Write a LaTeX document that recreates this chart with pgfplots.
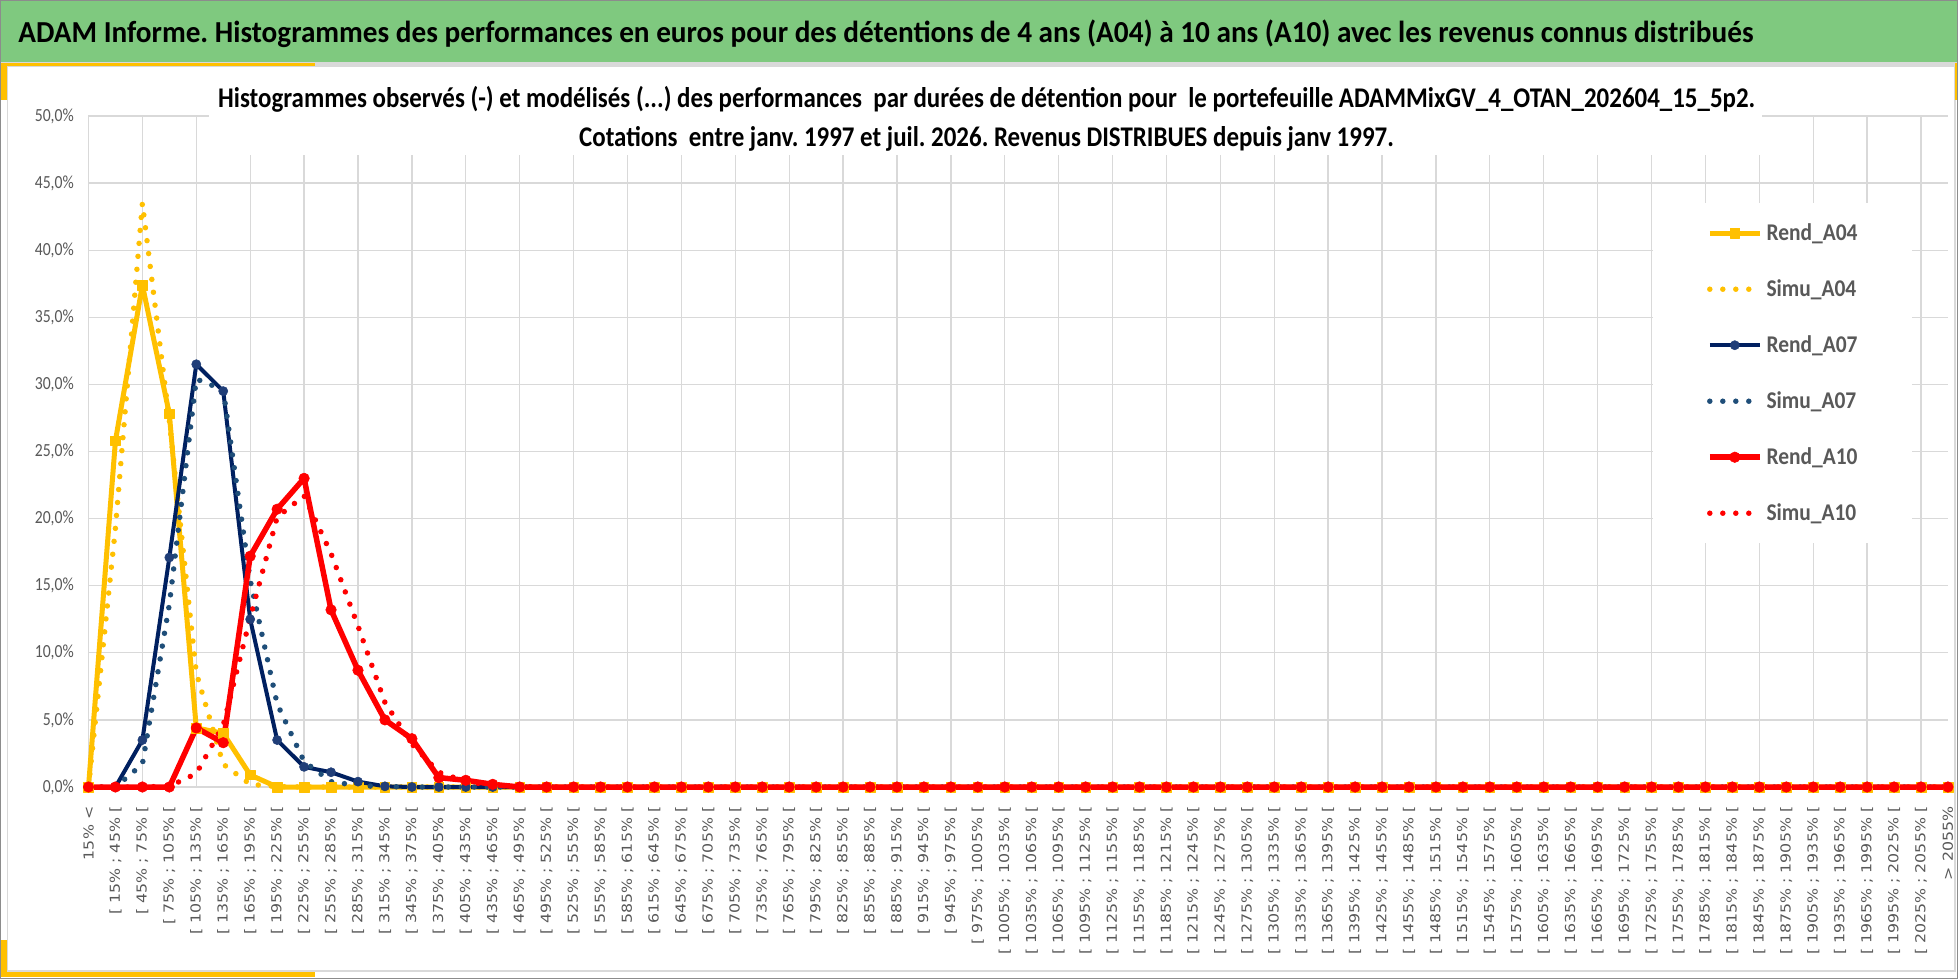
\documentclass[border=0pt]{standalone}
\usepackage{pgfplots}
\usepackage{pgfplotstable}
\pgfplotsset{compat=1.18}
\usetikzlibrary{backgrounds}
\usepackage{fontspec}
\setmainfont{Carlito}
\newfontfamily\dejavu{DejaVu Sans}
\definecolor{ttl}{HTML}{595959}
\definecolor{grn}{HTML}{7FC97F}
\definecolor{ylw}{HTML}{FFC000}
\definecolor{nvy}{HTML}{002060}
\definecolor{nvym}{HTML}{203E78}
\definecolor{stl}{HTML}{1F4E79}
\definecolor{rd}{HTML}{FF0000}
\definecolor{gridc}{HTML}{D9D9D9}
\definecolor{framec}{HTML}{8C8C8C}

\newcommand\xl[1]{\scalebox{1}[0.87]{#1}}
\newcommand\br[2]{\xl{[ #1\% ; #2\% [}}
\newcommand\yl[1]{\scalebox{\yfac}[1]{#1}}
\newcommand\lgt[1]{\scalebox{\lfac}[1]{#1}}

\pgfplotstableread{
idx R04 S04 R07 S07 R10 S10
0 0 0 0 0 0 0
1 25.8 19.3 0 0 0 0
2 37.4 43.5 3.5 1.7 0 0
3 27.8 27.3 17.1 13.6 0 0.05
4 4.4 8.5 31.5 30.4 4.4 1.0
5 4.0 1.7 29.5 29.6 3.3 4.6
6 0.9 0.2 12.5 15.4 17.2 12.6
7 0 0.03 3.5 6.2 20.7 20.1
8 0 0 1.5 1.9 23.0 21.7
9 0 0 1.1 0.4 13.2 17.4
10 0 0 0.4 0.1 8.7 12.0
11 0 0 0.05 0.03 5.0 6.3
12 0 0 0 0 3.6 3.2
13 0 0 0 0 0.7 1.1
14 0 0 0 0 0.5 0.4
15 0 0 0 0 0.2 0.12
16 0 0 0 0 0 0.03
17 0 0 0 0 0 0
18 0 0 0 0 0 0
19 0 0 0 0 0 0
20 0 0 0 0 0 0
21 0 0 0 0 0 0
22 0 0 0 0 0 0
23 0 0 0 0 0 0
24 0 0 0 0 0 0
25 0 0 0 0 0 0
26 0 0 0 0 0 0
27 0 0 0 0 0 0
28 0 0 0 0 0 0
29 0 0 0 0 0 0
30 0 0 0 0 0 0
31 0 0 0 0 0 0
32 0 0 0 0 0 0
33 0 0 0 0 0 0
34 0 0 0 0 0 0
35 0 0 0 0 0 0
36 0 0 0 0 0 0
37 0 0 0 0 0 0
38 0 0 0 0 0 0
39 0 0 0 0 0 0
40 0 0 0 0 0 0
41 0 0 0 0 0 0
42 0 0 0 0 0 0
43 0 0 0 0 0 0
44 0 0 0 0 0 0
45 0 0 0 0 0 0
46 0 0 0 0 0 0
47 0 0 0 0 0 0
48 0 0 0 0 0 0
49 0 0 0 0 0 0
50 0 0 0 0 0 0
51 0 0 0 0 0 0
52 0 0 0 0 0 0
53 0 0 0 0 0 0
54 0 0 0 0 0 0
55 0 0 0 0 0 0
56 0 0 0 0 0 0
57 0 0 0 0 0 0
58 0 0 0 0 0 0
59 0 0 0 0 0 0
60 0 0 0 0 0 0
61 0 0 0 0 0 0
62 0 0 0 0 0 0
63 0 0 0 0 0 0
64 0 0 0 0 0 0
65 0 0 0 0 0 0
66 0 0 0 0 0 0
67 0 0 0 0 0 0
68 0 0 0 0 0 0
69 0 0 0 0 0 0
}\datatab

\newsavebox\titlebox
\newsavebox\subA
\newsavebox\subB
\newsavebox\lgbox
\newsavebox\ybox

\begin{document}
\frenchspacing
\sbox\titlebox{\fontsize{30.5bp}{36bp}\selectfont\bfseries ADAM Informe. Histogrammes des performances en euros pour des détentions de 4 ans (A04) à 10 ans (A10) avec les revenus connus distribués}%
\sbox\subA{\fontsize{28.5bp}{34bp}\selectfont\bfseries Histogrammes observés (-) et modélisés (...) des performances\ \ par durées de détention pour\ \ le portefeuille ADAMMixGV\_4\_OTAN\_202604\_15\_5p2.}%
\sbox\subB{\fontsize{28.5bp}{34bp}\selectfont\bfseries Cotations\ \ entre janv. 1997 et juil. 2026. Revenus DISTRIBUES depuis janv 1997.}%
\sbox\lgbox{\fontsize{24bp}{24bp}\selectfont\bfseries Rend\_A04}%
\sbox\ybox{\fontsize{18.5bp}{19bp}\selectfont 50,0\%}%
\pgfmathsetmacro\sfac{1542.76/\the\wd\subA}%
\pgfmathsetmacro\lfac{91.34/\the\wd\lgbox}%
\pgfmathsetmacro\yfac{39.15/\the\wd\ybox}%
\begin{tikzpicture}[x=1bp,y=1bp]
\begin{axis}[
  scale only axis, width=1859.5bp, height=671bp,
  xmin=0, xmax=69, ymin=0, ymax=50,
  clip=false,
  axis line style={draw=none},
  major tick length=0pt,
  xtick={0,...,69},
  xticklabels={\xl{15\% <},
  \br{15}{45},\br{45}{75},\br{75}{105},\br{105}{135},\br{135}{165},\br{165}{195},\br{195}{225},\br{225}{255},\br{255}{285},\br{285}{315},
  \br{315}{345},\br{345}{375},\br{375}{405},\br{405}{435},\br{435}{465},\br{465}{495},\br{495}{525},\br{525}{555},\br{555}{585},\br{585}{615},
  \br{615}{645},\br{645}{675},\br{675}{705},\br{705}{735},\br{735}{765},\br{765}{795},\br{795}{825},\br{825}{855},\br{855}{885},\br{885}{915},
  \br{915}{945},\br{945}{975},\br{975}{1005},\br{1005}{1035},\br{1035}{1065},\br{1065}{1095},\br{1095}{1125},\br{1125}{1155},\br{1155}{1185},\br{1185}{1215},
  \br{1215}{1245},\br{1245}{1275},\br{1275}{1305},\br{1305}{1335},\br{1335}{1365},\br{1365}{1395},\br{1395}{1425},\br{1425}{1455},\br{1455}{1485},\br{1485}{1515},
  \br{1515}{1545},\br{1545}{1575},\br{1575}{1605},\br{1605}{1635},\br{1635}{1665},\br{1665}{1695},\br{1695}{1725},\br{1725}{1755},\br{1755}{1785},\br{1785}{1815},
  \br{1815}{1845},\br{1845}{1875},\br{1875}{1905},\br{1905}{1935},\br{1935}{1965},\br{1965}{1995},\br{1995}{2025},\br{2025}{2055},
  \xl{> 2055\%}},
  ytick={0,5,...,50},
  yticklabels={\yl{0,0\%},\yl{5,0\%},\yl{10,0\%},\yl{15,0\%},\yl{20,0\%},\yl{25,0\%},\yl{30,0\%},\yl{35,0\%},\yl{40,0\%},\yl{45,0\%},\yl{50,0\%}},
  ymajorgrids,
  grid style={gridc, line width=1.3bp},
  extra x ticks={0,2,...,68},
  extra x tick labels={},
  extra x tick style={grid=major},
  xticklabel style={rotate=90, anchor=east, inner sep=0pt, font=\fontsize{15.8bp}{16bp}\dejavu, text=ttl},
  xticklabel shift=19.5bp,
  yticklabel style={anchor=east, inner sep=0pt, font=\fontsize{18.5bp}{19bp}\selectfont, text=ttl},
  yticklabel shift=14.5bp,
  legend image code/.code={\draw[mark repeat=2,mark phase=2,#1] plot coordinates {(0bp,0bp) (25bp,0bp) (50bp,0bp)};},
  legend cell align=left,
  legend style={at={(0.8413,0.8703)}, anchor=north west, draw=none, fill=white,
    inner xsep=54bp, inner ysep=18bp, row sep=32bp, column sep=4bp,
    font=\fontsize{24bp}{24bp}\selectfont\bfseries, text=ttl,
    nodes={inner sep=0pt, text height=19bp, text depth=5bp}},
]
\addplot[ylw, line width=5bp, line join=round, mark=square*, mark size=4.8bp, mark options={solid, line width=0.5bp, fill=ylw, draw=ylw}] table[x=idx,y=R04]{\datatab};
\addlegendentry{\lgt{Rend\_A04}}
\addplot[ylw, line width=5.5bp, line cap=round, dash pattern=on 0bp off 13bp] table[x=idx,y=S04]{\datatab};
\addlegendentry{\lgt{Simu\_A04}}
\addplot[nvy, line width=4bp, line join=round, mark=*, mark size=4.6bp, mark options={solid, line width=0.5bp, fill=nvym, draw=nvym}] table[x=idx,y=R07]{\datatab};
\addlegendentry{\lgt{Rend\_A07}}
\addplot[stl, line width=5.5bp, line cap=round, dash pattern=on 0bp off 13bp] table[x=idx,y=S07]{\datatab};
\addlegendentry{\lgt{Simu\_A07}}
\addplot[rd, line width=5.5bp, line join=round, mark=*, mark size=5.3bp, mark options={solid, line width=0.5bp, fill=rd, draw=rd}] table[x=idx,y=R10]{\datatab};
\addlegendentry{\lgt{Rend\_A10}}
\addplot[rd, line width=5.5bp, line cap=round, dash pattern=on 0bp off 13bp] table[x=idx,y=S10]{\datatab};
\addlegendentry{\lgt{Simu\_A10}}
\coordinate (O) at (axis cs:0,0);
\end{axis}
\begin{scope}[on background layer, shift={(O)}, shift={(-88.5,-192)}]
\fill[white] (0,0) rectangle (1958,979);
\fill[grn] (1.5,917) rectangle (1956.5,977.5);
\fill[gridc] (1.5,913) rectangle (1956.5,917);
\draw[gridc, line width=1.2bp] (7.5,8) rectangle (1955,913);
\fill[ylw] (0,879) rectangle (7,916);
\fill[ylw] (0,912.5) rectangle (315,916);
\fill[ylw] (0,2) rectangle (7,39);
\fill[ylw] (0,2) rectangle (315,7);
\fill[ylw] (1955,879) rectangle (1958,916);
\draw[framec, line width=1.5bp] (0.75,0.75) rectangle (1957.25,978.25);
\node[anchor=base west, inner sep=0pt, text=black] at (18.3,936.3) {\resizebox{1735bp}{\height}{\usebox\titlebox}};
\end{scope}
\begin{scope}[shift={(O)}, shift={(-88.5,-192)}]
\fill[white] (209,824) rectangle (1762,909);
\node[anchor=base west, inner sep=0pt, text=ttl] at (218,871) {\resizebox{1537bp}{\height}{\usebox\subA}};
\node[anchor=base, inner sep=0pt, text=ttl] at (986.5,832) {\scalebox{\sfac}[1]{\usebox\subB}};
\pgfresetboundingbox
\path[use as bounding box] (0,0) rectangle (1958,979);
\end{scope}
\end{tikzpicture}
\end{document}
